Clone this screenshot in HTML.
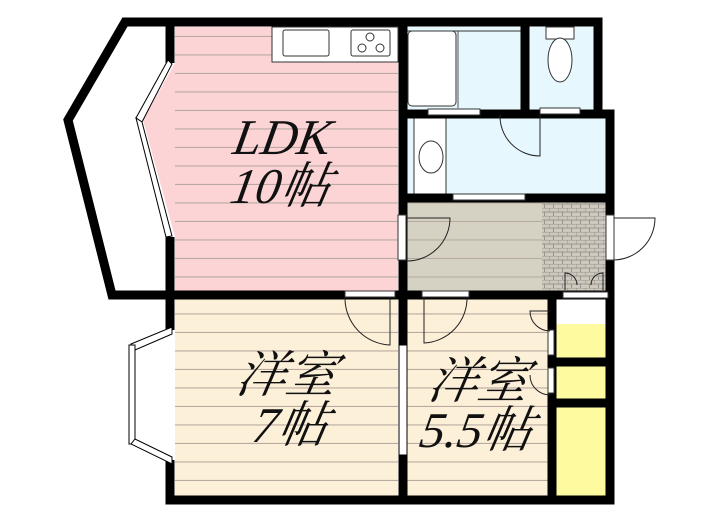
<!DOCTYPE html>
<html><head><meta charset="utf-8"><style>
html,body{margin:0;padding:0;background:#fff;width:720px;height:512px;overflow:hidden}
text{font-family:"Liberation Serif","Noto Serif CJK SC",serif;font-style:italic;fill:#111}
</style></head><body>
<svg width="720" height="512" viewBox="0 0 720 512" xmlns="http://www.w3.org/2000/svg">
<defs>
<pattern id="ln" width="10" height="18.5" patternUnits="userSpaceOnUse"><rect width="10" height="18.5" fill="none"/><line x1="0" y1="18" x2="10" y2="18" stroke="#b9a9a0" stroke-width="1.2"/></pattern>
<pattern id="tile" width="9" height="8" patternUnits="userSpaceOnUse"><rect width="9" height="8" fill="#cfc8bc"/><path d="M0 0H9M0 4H9M0 0V4M4.5 4V8" stroke="#888" stroke-width="0.8" fill="none"/></pattern>
</defs>
<polygon points="175,27 398,27 398,291 175,291 175,237 143,120 175,63" fill="#fcd4d6"/>
<rect x="175" y="27" width="223" height="264" fill="url(#ln)"/>
<rect x="407" y="27" width="115" height="82" fill="#e6f8fd"/>
<rect x="529" y="27" width="66" height="82" fill="#e6f8fd"/>
<rect x="407" y="118" width="200" height="78" fill="#e6f8fd"/>
<rect x="407" y="202" width="135" height="90" fill="#d5d2c3"/>
<rect x="407" y="202" width="135" height="90" fill="url(#ln)"/>
<rect x="542" y="202" width="65" height="90" fill="url(#tile)"/>
<rect x="175" y="299" width="223" height="197" fill="#fdf0d8"/>
<rect x="175" y="299" width="223" height="197" fill="url(#ln)"/>
<rect x="407" y="299" width="143" height="197" fill="#fdf0d8"/>
<rect x="407" y="299" width="143" height="197" fill="url(#ln)"/>
<rect x="555" y="324" width="52" height="34" fill="#fdfaa0"/>
<rect x="555" y="366" width="52" height="34" fill="#fdfaa0"/>
<rect x="555" y="407" width="52" height="89" fill="#fdfaa0"/>
<rect x="272" y="27" width="126" height="35" fill="#fff" stroke="#333"/>
<rect x="283" y="30" width="46" height="26" fill="#fff" stroke="#333" rx="2"/>
<rect x="351" y="30" width="39" height="26" fill="#fff" stroke="#333" rx="2"/>
<circle cx="370" cy="37" r="4" fill="none" stroke="#333"/><circle cx="362" cy="48" r="4" fill="none" stroke="#333"/><circle cx="380" cy="48" r="4" fill="none" stroke="#333"/>
<rect x="408" y="31" width="48" height="75" rx="4" fill="#fff" stroke="#333"/>
<line x1="458" y1="31" x2="458" y2="108" stroke="#555"/>
<line x1="407" y1="31" x2="522" y2="31" stroke="#333"/>
<rect x="546" y="27" width="28" height="12" fill="#fff" stroke="#333"/>
<ellipse cx="560" cy="60" rx="12" ry="22" fill="#fff" stroke="#333"/>
<rect x="414" y="118" width="32" height="78" fill="#fff" stroke="#333"/>
<ellipse cx="431" cy="157" rx="12" ry="16" fill="#fff" stroke="#333"/>
<g fill="none" stroke="#000" stroke-width="9" stroke-linejoin="miter">
<polyline points="170,63 170,22 403,22"/>
<polyline points="170,237 170,295 112,295 68,120 125,22 170,22"/>
<line x1="403" y1="22" x2="403" y2="500"/>
<polyline points="403,22 598,22 598,114 610,114 610,500 170,500 170,460"/>
<line x1="170" y1="330" x2="170" y2="295"/>
<line x1="525" y1="22" x2="525" y2="114"/>
<line x1="403" y1="114" x2="610" y2="114"/>
<line x1="403" y1="198" x2="610" y2="198"/>
<line x1="112" y1="295" x2="610" y2="295"/>
<line x1="552" y1="295" x2="552" y2="500"/>
<line x1="552" y1="362" x2="610" y2="362"/>
<line x1="552" y1="403" x2="610" y2="403"/>
</g>
<g stroke="#000" stroke-width="1" fill="#fff">
<polygon points="168,60 172,64 142,122 136,118"/>
<polygon points="142,122 136,118 166,237 172,236"/>
<polygon points="172,327 172,334 135,350 131,344"/>
<rect x="129" y="345" width="6" height="99"/>
<polygon points="172,457 172,464 131,444 135,439"/>
<rect x="399" y="345" width="8" height="110"/>
</g>
<g fill="#fff" stroke="#333" stroke-width="1">
<rect x="345" y="291" width="50" height="6"/>
<rect x="422" y="291" width="47" height="6"/>
<rect x="540" y="108" width="40" height="6"/>
<rect x="453" y="194" width="72" height="6"/>
<rect x="428" y="109" width="52" height="6"/>
<rect x="398" y="215" width="8" height="45"/>
<rect x="606" y="215" width="8" height="45"/>
<rect x="563" y="292" width="45" height="6"/>
<rect x="548" y="330" width="6" height="25"/>
<rect x="548" y="368" width="6" height="25"/>
</g>
<g fill="none" stroke="#222" stroke-width="1">
<path d="M407 218 H450 A43 43 0 0 1 407 261"/>
<path d="M540 115 V156 A40 40 0 0 1 500 115"/>
<path d="M390 297 V345 A47 47 0 0 1 345 297"/>
<path d="M424 297 V343 A45 45 0 0 0 467 297"/>
<path d="M614 218 H655 A42 42 0 0 1 614 260"/>
<path d="M550 331 A20 20 0 0 1 530 311 H550"/>
<path d="M550 395 A20 20 0 0 1 530 375"/>
<path d="M565 290 V273 A12 12 0 0 1 577 285 M603 290 V273 A12 12 0 0 0 591 285"/>
</g>
<g transform="skewX(-10)">
<text x="307" y="154" font-size="50" text-anchor="middle">LDK</text>
<text x="314" y="203" font-size="50" text-anchor="middle">10帖</text>
<text x="353" y="392" font-size="50" text-anchor="middle">洋室</text>
<text x="366" y="442" font-size="50" text-anchor="middle">7帖</text>
<text x="546" y="398" font-size="50" text-anchor="middle">洋室</text>
<text x="553" y="447" font-size="50" text-anchor="middle">5.5帖</text>
</g>
</svg>
</body></html>
